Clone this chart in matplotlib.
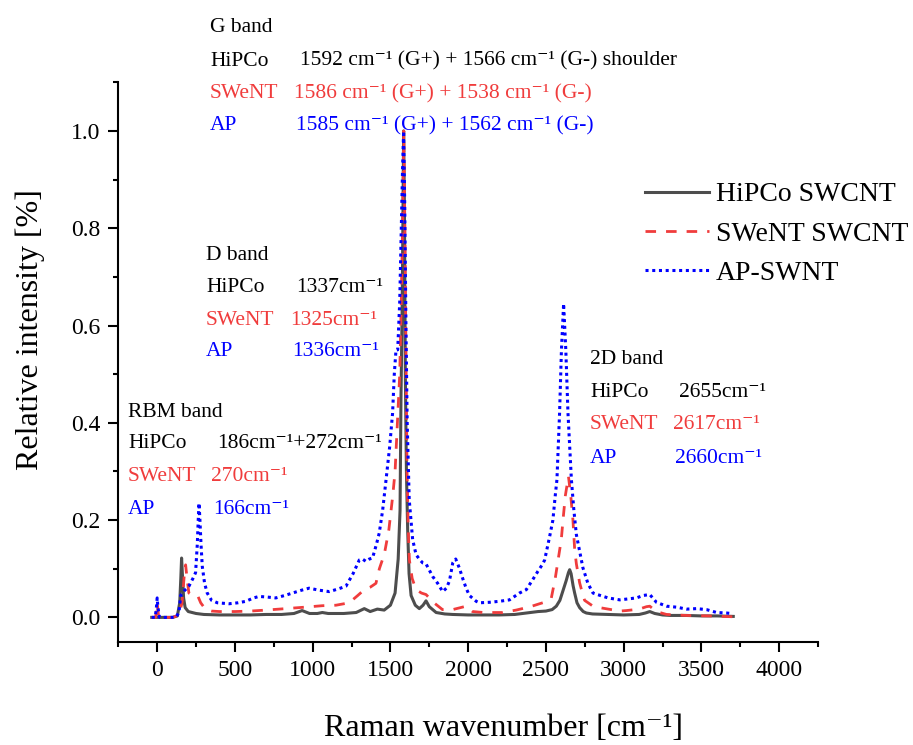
import matplotlib
matplotlib.use('Agg')
import matplotlib.pyplot as plt
from matplotlib.ticker import MultipleLocator, FormatStrFormatter

# ---------------- data ----------------
hipco_x = [-35, 0, 100, 130, 145, 152, 157, 162, 170, 180, 200, 250, 300, 400, 500, 600, 700, 800,
           880, 932, 980, 1030, 1062, 1100, 1200, 1280, 1332, 1370, 1416, 1460, 1500, 1530, 1550,
           1562, 1568, 1575, 1580, 1585, 1590, 1596, 1603, 1611, 1620, 1633, 1660, 1686, 1710, 1729,
           1750, 1794, 1850, 1900, 2000, 2100, 2200, 2300, 2400, 2450, 2500, 2540, 2567, 2590, 2610,
           2630, 2645, 2653, 2662, 2675, 2685, 2700, 2717, 2740, 2760, 2800, 2900, 3000, 3100, 3140,
           3168, 3200, 3250, 3300, 3400, 3500, 3600, 3705]
hipco_y = [0.0, 0.0, 0.0, 0.003, 0.03, 0.08, 0.122, 0.09, 0.04, 0.02, 0.012, 0.008, 0.006, 0.005,
           0.005, 0.005, 0.006, 0.006, 0.008, 0.014, 0.008, 0.008, 0.010, 0.008, 0.008, 0.010, 0.018,
           0.012, 0.017, 0.015, 0.025, 0.05, 0.12, 0.22, 0.45, 0.62, 0.80, 1.0, 0.85, 0.50, 0.30,
           0.18, 0.09, 0.045, 0.025, 0.018, 0.025, 0.034, 0.022, 0.010, 0.007, 0.006, 0.005, 0.005,
           0.005, 0.006, 0.010, 0.012, 0.013, 0.016, 0.023, 0.035, 0.055, 0.075, 0.092, 0.098, 0.090,
           0.065, 0.050, 0.030, 0.020, 0.012, 0.009, 0.007, 0.006, 0.005, 0.006, 0.009, 0.012, 0.008,
           0.005, 0.004, 0.004, 0.003, 0.003, 0.002]

swent_x = [-35, -10, 0, 10, 100, 140, 160, 175, 183, 192, 204, 230, 260, 280, 312, 350, 400, 500,
           600, 700, 827, 950, 1062, 1150, 1235, 1290, 1332, 1370, 1407, 1429, 1461, 1490, 1515, 1530,
           1545, 1560, 1570, 1578, 1586, 1593, 1600, 1607, 1615, 1622, 1640, 1665, 1700, 1729, 1780,
           1835, 1900, 1950, 1987, 2028, 2100, 2222, 2309, 2400, 2459, 2500, 2535, 2560, 2577, 2599,
           2610, 2625, 2645, 2660, 2674, 2685, 2696, 2717, 2728, 2749, 2803, 2846, 2975, 3018, 3100,
           3147, 3168, 3211, 3276, 3400, 3550, 3727]
swent_y = [0.0, 0.0, 0.03, 0.0, 0.0, 0.005, 0.03, 0.09, 0.108, 0.08, 0.05, 0.045, 0.045, 0.03, 0.016,
           0.013, 0.012, 0.012, 0.013, 0.015, 0.018, 0.021, 0.024, 0.025, 0.030, 0.045, 0.057, 0.062,
           0.070, 0.10, 0.13, 0.18, 0.25, 0.30, 0.40, 0.50, 0.65, 0.80, 1.0, 0.80, 0.55, 0.30, 0.18,
           0.118, 0.08, 0.057, 0.05, 0.047, 0.03, 0.016, 0.016, 0.02, 0.023, 0.012, 0.010, 0.010,
           0.015, 0.022, 0.028, 0.032, 0.040, 0.08, 0.115, 0.16, 0.20, 0.25, 0.29, 0.25, 0.20, 0.14,
           0.11, 0.071, 0.058, 0.035, 0.023, 0.020, 0.013, 0.014, 0.017, 0.022, 0.023, 0.012, 0.006,
           0.004, 0.003, 0.001]

ap_x = [-35, -12, -5, 0, 5, 15, 120, 140, 151, 175, 204, 230, 247, 258, 264, 269, 275, 282, 290, 305,
        322, 350, 387, 462, 520, 570, 620, 655, 700, 763, 820, 870, 930, 977, 1040, 1106, 1160, 1214,
        1260, 1300, 1320, 1343, 1365, 1385, 1410, 1428, 1450, 1472, 1495, 1514, 1525, 1536, 1547,
        1560, 1570, 1578, 1585, 1592, 1600, 1608, 1621, 1643, 1665, 1690, 1708, 1729, 1772, 1804,
        1836, 1860, 1880, 1901, 1920, 1944, 1965, 1987, 2008, 2052, 2073, 2137, 2200, 2266, 2330,
        2374, 2420, 2449, 2480, 2492, 2524, 2545, 2560, 2571, 2588, 2600, 2614, 2628, 2642, 2664,
        2680, 2696, 2738, 2770, 2803, 2850, 2900, 2975, 3030, 3082, 3126, 3168, 3211, 3276, 3340,
        3405, 3469, 3533, 3598, 3662, 3690]
ap_y = [0.0, 0.0, 0.02, 0.04, 0.02, 0.0, 0.0, 0.01, 0.045, 0.055, 0.064, 0.08, 0.092, 0.15, 0.20,
        0.235, 0.20, 0.15, 0.105, 0.07, 0.05, 0.035, 0.030, 0.028, 0.030, 0.033, 0.040, 0.043, 0.042,
        0.040, 0.045, 0.050, 0.056, 0.060, 0.056, 0.053, 0.058, 0.064, 0.09, 0.118, 0.12, 0.115, 0.12,
        0.122, 0.15, 0.173, 0.22, 0.283, 0.35, 0.42, 0.50, 0.55, 0.55, 0.65, 0.80, 0.92, 1.0, 0.85,
        0.60, 0.40, 0.242, 0.16, 0.129, 0.118, 0.112, 0.11, 0.084, 0.07, 0.053, 0.06, 0.075, 0.112,
        0.12, 0.101, 0.08, 0.06, 0.045, 0.033, 0.030, 0.031, 0.033, 0.036, 0.050, 0.057, 0.08, 0.095,
        0.11, 0.118, 0.166, 0.20, 0.25, 0.283, 0.42, 0.55, 0.645, 0.55, 0.42, 0.283, 0.22, 0.17,
        0.102, 0.07, 0.05, 0.045, 0.04, 0.036, 0.038, 0.04, 0.045, 0.047, 0.031, 0.023, 0.021, 0.017,
        0.018, 0.016, 0.010, 0.009, 0.008]

series_labels = ["HiPCo SWCNT", "SWeNT SWCNT", "AP-SWNT"]
x_ticks = [0, 500, 1000, 1500, 2000, 2500, 3000, 3500, 4000]
y_ticks = [0.0, 0.2, 0.4, 0.6, 0.8, 1.0]

# ---------------- style ----------------
plt.rcParams['font.family'] = ['Liberation Serif', 'DejaVu Serif']

W, H = 913, 745
fig = plt.figure(figsize=(W / 100, H / 100), dpi=100)
ax = fig.add_axes([118.3 / W, 1 - 641.7 / H, (818 - 118.3) / W, (641.7 - 82.3) / H])

GRAY = '#4d4d4d'
RED = '#f03c3c'
BLUE = '#0000ff'

l1, = ax.plot(hipco_x, hipco_y, color=GRAY, lw=2.2, solid_joinstyle='round')
l2, = ax.plot(swent_x, swent_y, color=RED, lw=2.0, linestyle=(0, (3.8, 3.6)))
l3, = ax.plot(ap_x, ap_y, color=BLUE, lw=2.2, linestyle=(0, (1, 1.2)))

ax.set_xlim(-250, 4250)
ax.set_ylim(-0.05, 1.1)
ax.set_xticks(x_ticks)
ax.set_yticks(y_ticks)
ax.xaxis.set_minor_locator(MultipleLocator(250))
ax.yaxis.set_minor_locator(MultipleLocator(0.1))
ax.yaxis.set_major_formatter(FormatStrFormatter('%.1f'))
for s in ['top', 'right']:
    ax.spines[s].set_visible(False)
for s in ['left', 'bottom']:
    ax.spines[s].set_linewidth(1.5)
ax.tick_params(which='major', direction='out', length=7, width=1.5, labelsize=17, pad=6)
ax.tick_params(which='minor', direction='out', length=3.6, width=1.5)

ax.legend([l1, l2, l3], series_labels, loc='upper left',
          bbox_to_anchor=(645 / W, 1 - 182 / H), bbox_transform=fig.transFigure,
          frameon=False, fontsize=20, handlelength=2.3, handletextpad=0.25,
          labelspacing=0.5, borderpad=0, borderaxespad=0)

CM = 'cm\u207b\u00b9'
fig.text(503 / W, 1 - 728 / H, 'Raman wavenumber [' + CM + ']', ha='center', va='center', fontsize=23)
fig.text(30 / W, 1 - 330 / H, 'Relative intensity [%]', ha='center', va='center',
         rotation=90, fontsize=23)


def ftext(px, py, s, color='black', size=15.5):
    fig.text(px / W, 1 - py / H, s, ha='left', va='center', color=color, fontsize=size)


# G band
ftext(210, 27, 'G band')
ftext(210, 61, 'HiPCo')
ftext(300, 61, '1592 ' + CM + ' (G+) + 1566 ' + CM + ' (G-) shoulder')
ftext(210, 94, 'SWeNT', RED)
ftext(294, 94, '1586 ' + CM + ' (G+) + 1538 ' + CM + ' (G-)', RED)
ftext(210, 126, 'AP', BLUE)
ftext(296, 126, '1585 ' + CM + ' (G+) + 1562 ' + CM + ' (G-)', BLUE)
# D band
ftext(206, 256, 'D band')
ftext(206, 288, 'HiPCo')
ftext(296, 288, '1337' + CM)
ftext(206, 320, 'SWeNT', RED)
ftext(290, 320, '1325' + CM, RED)
ftext(206, 352, 'AP', BLUE)
ftext(292, 352, '1336' + CM, BLUE)
# RBM band
ftext(128, 412, 'RBM band')
ftext(128, 443, 'HiPCo')
ftext(217, 443, '186' + CM + '+272' + CM)
ftext(128, 476, 'SWeNT', RED)
ftext(211, 476, '270' + CM, RED)
ftext(128, 510, 'AP', BLUE)
ftext(213, 510, '166' + CM, BLUE)
# 2D band
ftext(590, 360, '2D band')
ftext(590, 393, 'HiPCo')
ftext(679, 393, '2655' + CM)
ftext(590, 425, 'SWeNT', RED)
ftext(673, 425, '2617' + CM, RED)
ftext(590, 458, 'AP', BLUE)
ftext(675, 458, '2660' + CM, BLUE)

fig.savefig('out.png', dpi=100)
